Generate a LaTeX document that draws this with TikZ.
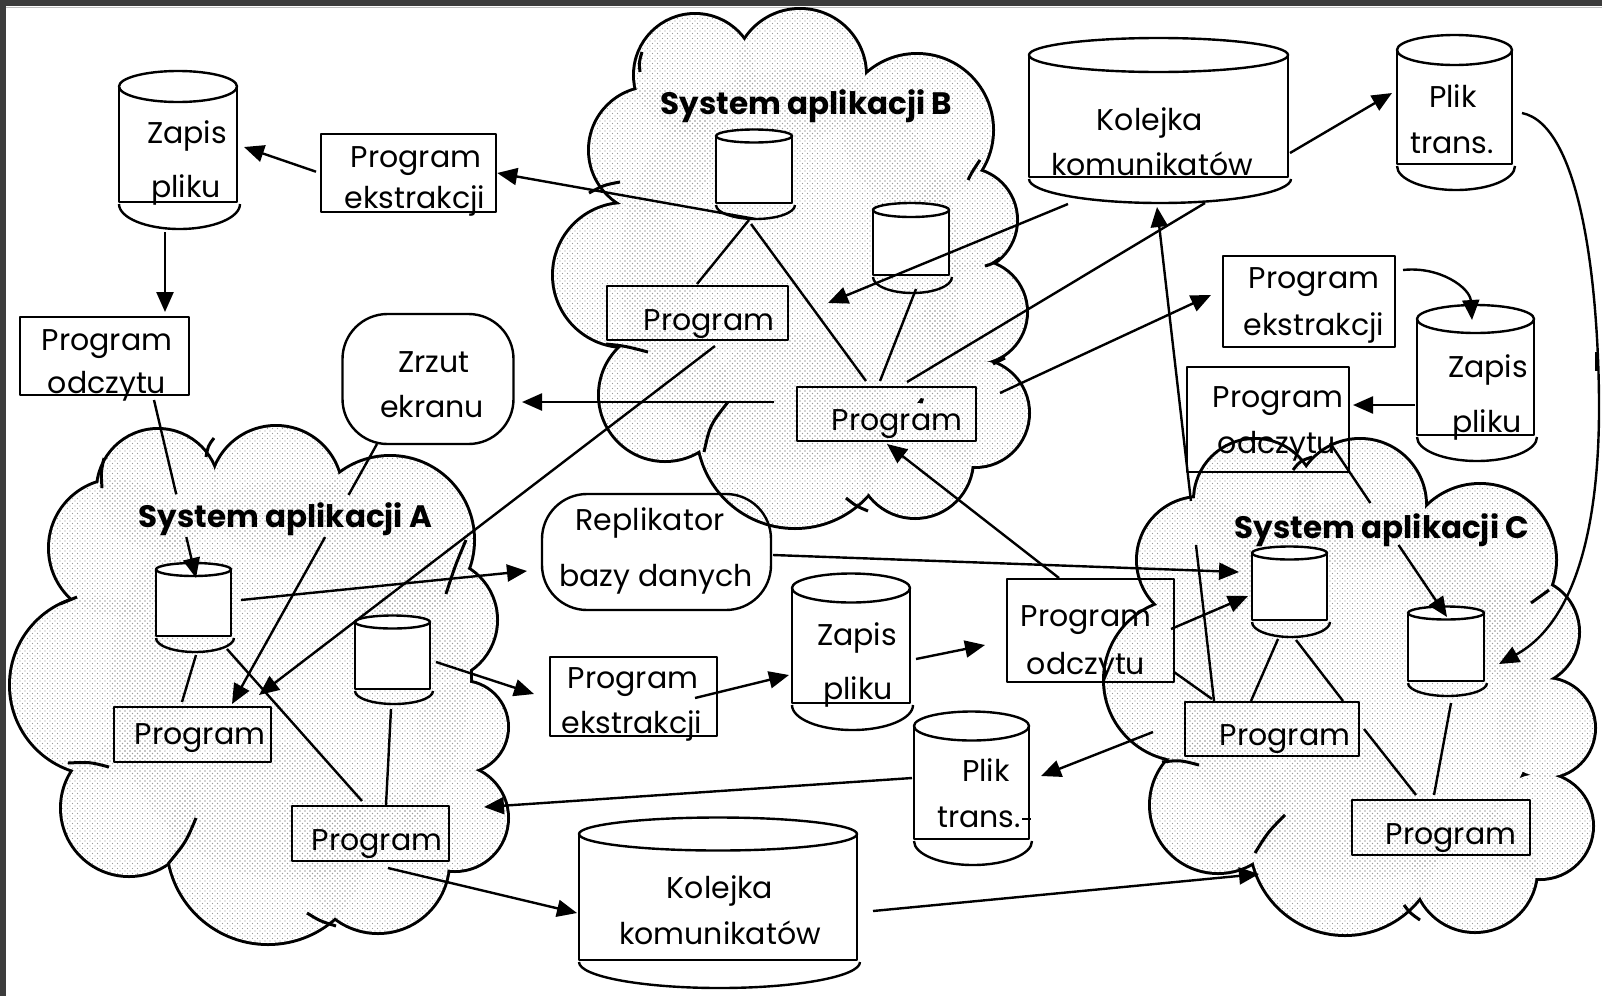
\documentclass[tikz,border=0pt]{standalone}
\usepackage{fontspec}
\setmainfont{Poppins}
\usetikzlibrary{arrows.meta,patterns,calc}
\definecolor{framegray}{HTML}{3C3C3C}
\definecolor{dotgray}{HTML}{9A9A9A}
\pgfdeclarepatternformonly{stipple}{\pgfqpoint{-1pt}{-1pt}}{\pgfqpoint{4pt}{4pt}}{\pgfqpoint{5pt}{5pt}}{%
  \pgfpathcircle{\pgfqpoint{0pt}{0pt}}{0.7pt}%
  \pgfpathcircle{\pgfqpoint{2.5pt}{2.5pt}}{0.7pt}%
  \pgfusepath{fill}}
\newcommand\cloudshape[1]{%
  \foreach \cx/\cy/\rx/\ry in {#1}{\draw[line width=6pt] (\cx,\cy) ellipse [x radius=\rx, y radius=\ry];}%
  \foreach \cx/\cy/\rx/\ry in {#1}{\fill[white] (\cx,\cy) ellipse [x radius=\rx, y radius=\ry];}%
  \foreach \cx/\cy/\rx/\ry in {#1}{\fill[pattern=stipple, pattern color=dotgray] (\cx,\cy) ellipse [x radius=\rx, y radius=\ry];}%
}
% name, cx, ellipse cy, half width, ellipse ry, body bottom, bottom arc ry
\newcommand\cyl[7]{%
  \filldraw[fill=white, line width=2.4pt] ({#2-#4},#3) rectangle ({#2+#4},#6);
  \filldraw[fill=white, line width=2.4pt] (#2,#3) ellipse [x radius=#4, y radius=#5];
  \draw[line width=2.4pt] ({#2-#4},{#6+2}) arc[start angle=180, end angle=0, x radius={#4+1.5}, y radius=#7];
  \node[inner sep=0pt, minimum width={2*#4}, minimum height={#6-#3}] (#1) at (#2,{(#3+#6)/2}) {};
  \coordinate (#1b) at ({#2+1.5},{#6+2+#7});
}
\tikzset{
  tx/.style={inner sep=0pt, anchor=base, font=\fontsize{30}{36}\selectfont},
  hd/.style={inner sep=0pt, anchor=base, font=\fontsize{31}{36}\selectfont\bfseries},
  bx/.style={draw, line width=2.4pt, inner sep=0pt},
  ln/.style={line width=2.4pt},
  arr/.style={ln, -{Triangle[length=20pt,width=17pt]}},
  cs/.style={line width=3pt}
}
\begin{document}
\begin{tikzpicture}[x=1pt,y=-1pt,line join=round]
\useasboundingbox (0,0) rectangle (1602,996);
\fill[white] (0,0) rectangle (1602,996);
\fill[framegray] (0,0) rectangle (1602,6);
\fill[framegray] (0,0) rectangle (5.5,996);
\draw[black!25, line width=1.2pt] (5.5,7.2) -- (1602,7.2);

% ---------- clouds ----------
\cloudshape{158/490/60/60, 276/492/65/65, 390/540/83/83, 436/620/60/60, 462/727/45/45, 455/818/52/52, 378/862/70/70, 268/843/100/100, 129/808/67/67, 100/685/89/89, 118/548/68/68, 290/680/180/200}
\cloudshape{695/75/60/60, 800/75/65/65, 917/130/75/75, 965/220/51/51, 975/312/51/51, 975/413/53/53, 915/460/57/57, 795/430/97/97, 665/395/65/65, 625/275/71/71, 652/150/62/62, 935/355/45/45, 790/270/170/200}
\cloudshape{1255/500/60/60, 1360/505/65/65, 1480/560/75/75, 1525/632/53/53, 1545/728/49/49, 1540/826/52/52, 1475/870/61/61, 1345/840/94/94, 1218/805/67/67, 1185/680/80/80, 1200/560/62/62, 1360/690/180/190}
% interior strokes
\draw[cs] (214,438) .. controls (208,446) .. (206,457);
\draw[cs] (466,540) .. controls (455,566) .. (446,594);
\draw[cs] (336,926) .. controls (320,921) .. (307,913);
\draw[cs] (168,864) .. controls (186,842) .. (196,818);
\draw[cs] (68,763) .. controls (90,762) .. (109,767);
\draw[cs] (60,604) .. controls (68,600) .. (77,597);
\draw[cs] (104,458) .. controls (101,472) .. (102,488);
\draw[cs] (589,193) .. controls (604,185) .. (620,182);
\draw[cs] (980,160) .. controls (972,172) .. (968,180);
\draw[cs] (1000,258) .. controls (992,264) .. (985,266);
\draw[cs] (1005,358) .. controls (999,361) .. (993,364);
\draw[cs] (868,511) .. controls (856,506) .. (846,498);
\draw[cs] (704,452) .. controls (710,425) .. (728,402);
\draw[cs] (606,344) .. controls (625,346) .. (648,352);
\draw[cs] (642,52) .. controls (639,62) .. (640,72);
\draw[cs] (1312,457) .. controls (1300,461) .. (1293,470);
\draw[cs] (1549,590) .. controls (1540,597) .. (1531,603);
\draw[cs] (1420,920) .. controls (1410,913) .. (1404,905);
\draw[cs] (1255,853) .. controls (1268,832) .. (1285,815);
\draw[cs] (1162,762) .. controls (1180,760) .. (1199,765);

% ---------- labels of systems ----------
\node[hd] (lb) at (806.5,114) {System aplikacji B};
\node[hd] (la) at (285.5,527) {System aplikacji A};
\node[hd] (lc) at (1382,538) {System aplikacji C};

% ---------- cylinders ----------
\cyl{cz1}{178}{86.5}{59}{15.5}{202}{25}
\cyl{kq1}{1158.5}{55}{129.5}{17}{177}{24}
\cyl{pt1}{1454.5}{50}{57.5}{15}{164}{24}
\cyl{cz2}{1475.5}{319}{58.5}{14}{435}{24}
\cyl{cz3}{851}{588}{59}{14.5}{703}{25}
\cyl{pt2}{971.5}{726}{57.5}{14.5}{839}{24}
\cyl{kq2}{718}{834}{139}{16.5}{960}{26}
\cyl{cb1}{754}{136}{38}{6.5}{203}{14}
\cyl{cb2}{911}{210}{38}{7}{275}{16}
\cyl{ca1}{193.5}{569.5}{37.5}{6.5}{636}{14}
\cyl{ca2}{392.5}{622}{37.5}{6.5}{689}{13}
\cyl{cc1}{1289.5}{553}{37.5}{6.5}{620}{15}
\cyl{cc2}{1446}{613}{38}{6.5}{681}{13}

\node[tx] (cz1a) at (187,143) {Zapis};
\node[tx] (cz1c) at (186,197) {pliku};
\node[tx] (kq1a) at (1150,130) {Kolejka};
\node[tx] (kq1c) at (1152,175) {komunikatów};
\node[tx] (pt1a) at (1453,107) {Plik};
\node[tx] (pt1c) at (1452,153) {trans.};
\node[tx] (cz2a) at (1488,377) {Zapis};
\node[tx] (cz2c) at (1487,432) {pliku};
\node[tx] (cz3a) at (857,645) {Zapis};
\node[tx] (cz3c) at (858,699) {pliku};
\node[tx] (pt2a) at (986,781) {Plik};
\node[tx] (pt2c) at (979,827) {trans.};
\node[tx] (kq2a) at (720,898) {Kolejka};
\node[tx] (kq2c) at (720,944) {komunikatów};
\draw[ln] (1022,819) -- (1031,819);

% ---------- boxes ----------
\node[bx, minimum width=175, minimum height=78] (pe1) at (408.5,173) {};
\node[bx, minimum width=169, minimum height=78] (po1) at (104.5,356) {};
\node[bx, minimum width=181, minimum height=54] (pb1) at (697.5,313) {};
\node[bx, minimum width=179, minimum height=54] (pb2) at (886.5,414) {};
\node[bx, minimum width=172, minimum height=91] (pe2) at (1309,301.5) {};
\node[bx, minimum width=162, minimum height=105] (po3) at (1268,419.5) {};
\node[bx, minimum width=157, minimum height=55] (pa1) at (192.5,734.5) {};
\node[bx, minimum width=157, minimum height=55] (pa2) at (370.5,833.5) {};
\node[bx, minimum width=167, minimum height=79] (pe3) at (633.5,696.5) {};
\node[bx, minimum width=167, minimum height=103] (po2) at (1090.5,630.5) {};
\node[bx, minimum width=174, minimum height=54] (pc1) at (1272,729) {};
\node[bx, minimum width=178, minimum height=55] (pc2) at (1441,827.5) {};
\node[bx, rounded corners=45, minimum width=171, minimum height=130] (ze) at (428,379) {};
\node[bx, rounded corners=45, minimum width=229, minimum height=116] (rep) at (656.5,552) {};

\node[tx] (pe1a) at (416,167) {Program};
\node[tx] (pe1c) at (415,208) {ekstrakcji};
\node[tx] (po1a) at (107,350) {Program};
\node[tx] (po1c) at (107,393) {odczytu};
\node[tx] (pb1a) at (709,330) {Program};
\node[tx] (pb2a) at (897,430) {Program};
\node[tx] (pe2a) at (1314,288) {Program};
\node[tx] (pe2c) at (1314,335) {ekstrakcji};
\node[tx] (po3a) at (1278,407) {Program};
\node[tx] (po3c) at (1277,453) {odczytu};
\node[tx] (pa1a) at (200,744) {Program};
\node[tx] (pa2a) at (377,850) {Program};
\node[tx] (pe3a) at (633,688) {Program};
\node[tx] (pe3c) at (632,733) {ekstrakcji};
\node[tx] (po2a) at (1086,626) {Program};
\node[tx] (po2c) at (1086,674) {odczytu};
\node[tx] (pc1a) at (1285,745) {Program};
\node[tx] (pc2a) at (1451,844) {Program};
\node[tx] (zea) at (434,372) {Zrzut};
\node[tx] (zec) at (432,417) {ekranu};
\node[tx] (repa) at (650,530) {Replikator};
\node[tx] (repc) at (656,586) {bazy danych};

% ---------- connector end points ----------
\coordinate (cz1i) at (244,147);
\coordinate (cz1o) at (165,232);
\coordinate (po1i) at (165,312);
\coordinate (po1o) at (154,400);
\coordinate (ca1i) at (196,578);
\coordinate (pb2o) at (774,402);
\coordinate (zei) at (522,402);
\coordinate (zeo) at (377,444);
\coordinate (pa1i) at (232,704);
\coordinate (pb1o) at (715,346);
\coordinate (pa1j) at (259,695);
\coordinate (ca1o) at (241,600);
\coordinate (repi) at (527,571);
\coordinate (ca1p) at (196,655);
\coordinate (pa1t) at (182,702);
\coordinate (ca1q) at (227,649);
\coordinate (pa2t) at (362,801);
\coordinate (ca2p) at (391,709);
\coordinate (pa2u) at (386,805);
\coordinate (ca2o) at (436,662);
\coordinate (pe3i) at (534,694);
\coordinate (pe3o) at (695,698);
\coordinate (cz3i) at (789,675);
\coordinate (cz3o) at (916,659);
\coordinate (po2i) at (985,645);
\coordinate (po2o) at (1059,578);
\coordinate (pb2i) at (887,444);
\coordinate (po2p) at (1171,629);
\coordinate (cc1i) at (1248,596);
\coordinate (po2q) at (1174,672);
\coordinate (pc1t) at (1212,699);
\coordinate (repo) at (773,555);
\coordinate (cc1j) at (1239,572);
\coordinate (pt2o) at (912,778);
\coordinate (cai) at (484,807);
\coordinate (pc1o) at (1153,732);
\coordinate (pt2i) at (1041,776);
\coordinate (pa2o) at (388,868);
\coordinate (kq2i) at (577,913);
\coordinate (kq2o) at (873,911);
\coordinate (cci) at (1259,874);
\coordinate (pc1p) at (1214,701);
\coordinate (kq1i) at (1157,207);
\coordinate (kq1o) at (1068,204);
\coordinate (cbi) at (828,303);
\coordinate (pb2p) at (907,382);
\coordinate (kq1p) at (1205,203);
\coordinate (pb2q) at (1000,393);
\coordinate (pe2i) at (1211,295);
\coordinate (kq1q) at (1290,153);
\coordinate (pt1i) at (1392,93);
\coordinate (pt1o) at (1522,113);
\coordinate (cc2i) at (1499,664);
\coordinate (pe2o) at (1403,270);
\coordinate (cz2i) at (1472,320);
\coordinate (cz2o) at (1415,405);
\coordinate (po3i) at (1353,405);
\coordinate (po3o) at (1330,443);
\coordinate (cc2j) at (1447,617);
\coordinate (cb1p) at (749,220);
\coordinate (pb1t) at (697,284);
\coordinate (cb1q) at (751,224);
\coordinate (pb2t) at (866,381);
\coordinate (cb2p) at (916,289);
\coordinate (pb2u) at (880,381);
\coordinate (cc1p) at (1278,639);
\coordinate (pc1u) at (1251,701);
\coordinate (cc1q) at (1296,640);
\coordinate (pc1v) at (1343,701);
\coordinate (pc1q) at (1364,729);
\coordinate (pc2t) at (1416,795);
\coordinate (cc2p) at (1451,703);
\coordinate (pc2u) at (1434,795);

% ---------- connectors ----------
\draw[arr] (cb1b) -- (pe1.east);
\draw[arr, shorten <=4pt] (pe1.west) -- (cz1i);
\draw[arr] (cz1o) -- (po1i);
\draw[ln] (po1o) -- ($(po1o)!0.53!(ca1i)$);
\draw[arr] ($(po1o)!0.77!(ca1i)$) -- (ca1i);
\draw[arr] (pb2o) -- (zei);
\draw[ln] (zeo) -- ($(zeo)!0.196!(pa1i)$);
\draw[arr] ($(zeo)!0.358!(pa1i)$) -- (pa1i);
\draw[arr] (pb1o) -- (pa1j);
\draw[arr] (ca1o) -- (repi);
\draw[ln] (ca1p) -- (pa1t);
\draw[ln] (ca1q) -- (pa2t);
\draw[ln] (ca2p) -- (pa2u);
\draw[arr] (ca2o) -- (pe3i);
\draw[arr] (pe3o) -- (cz3i);
\draw[arr] (cz3o) -- (po2i);
\draw[arr] (po2o) -- (pb2i);
\draw[arr] (po2p) -- (cc1i);
\draw[ln] (po2q) -- (pc1t);
\draw[arr] (repo) -- (cc1j);
\draw[arr] (pt2o) -- (cai);
\draw[arr] (pc1o) -- (pt2i);
\draw[arr] (pa2o) -- (kq2i);
\draw[arr] (kq2o) -- (cci);
\draw[ln] (pc1p) -- ($(pc1p)!0.316!(kq1i)$);
\draw[arr] ($(pc1p)!0.405!(kq1i)$) -- (kq1i);
\draw[arr] (kq1o) -- (cbi);
\draw[ln] (pb2p) -- (kq1p);
\draw[arr] (pb2q) -- (pe2i);
\draw[arr] (kq1q) -- (pt1i);
\draw[arr] (pt1o) .. controls (1580,125) and (1598,280) .. (1599,400) .. controls (1600,540) and (1570,625) .. (cc2i);
\draw[line width=4pt] (1597,352) -- (1597,371);
\draw[arr] (pe2o) .. controls (1440,266) and (1470,288) .. (cz2i);
\draw[arr] (cz2o) -- (po3i);
\draw[ln] (po3o) -- ($(po3o)!0.345!(cc2j)$);
\draw[arr] ($(po3o)!0.586!(cc2j)$) -- (cc2j);
\draw[ln] (cb1p) -- (pb1t);
\draw[ln] (cb1q) -- (pb2t);
\draw[ln] (cb2p) -- (pb2u);
\draw[ln] (cc1p) -- (pc1u);
\draw[ln] (cc1q) -- (pc1v);
\draw[ln] (pc1q) -- (pc2t);
\draw[ln] (cc2p) -- (pc2u);
\end{tikzpicture}
\end{document}
